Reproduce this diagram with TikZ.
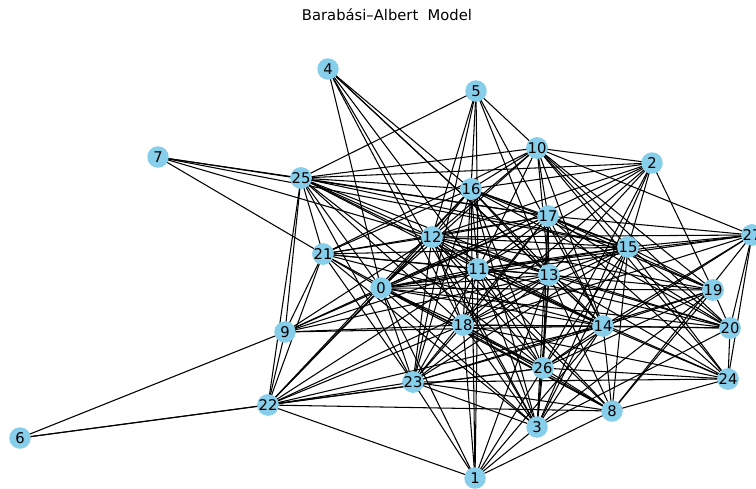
\documentclass[tikz,border=0pt]{standalone}
\usepackage{fontspec}
\setmainfont{DejaVu Sans}
\usepackage{tikz}
\pgfdeclarelayer{bg}
\pgfsetlayers{bg,main}
\definecolor{skyblue}{RGB}{135,206,235}
\tikzset{
	vertex/.style={circle, fill=skyblue, inner sep=0pt, minimum size=0.43cm, font=\fontsize{8.4}{10}\selectfont},
	link/.style={draw=black, line width=0.6pt}
}
\begin{document}
\begin{tikzpicture}[x=0.02cm, y=-0.02cm]
				\useasboundingbox (0,0) rectangle (756,488);
				\node[font=\fontsize{8.4}{10}\selectfont] (title) at (387,15) {Barabási–Albert\ \ Model};
				% vertices at pixel positions
				\foreach \n/\x/\y in {0/381/288, 1/475/478, 2/652/163, 3/537/427, 4/328/69, 5/476/91, 6/20/438,
					7/158/157, 8/612/411, 9/285/332, 10/537/148, 11/478/269, 12/432/237, 13/549/275,
					14/603/326, 15/628/247, 16/471/189, 17/548/216, 18/463/325, 19/713/290, 20/730/328,
					21/323/254, 22/268/405, 23/413/382, 24/728/379, 25/301/178, 26/543/368, 27/752/235} {
					\node[vertex] (v\n) at (\x,\y) {\n};
				}
				\begin{pgfonlayer}{bg}
				\foreach \a/\nbrs in {
					0/{1,2,3,4,8,9,10,11,12,13,14,15,16,17,18,19,20,21,22,23,25,26,27},
					1/{3,8,11,13,14,16,18,22,23,26},
					2/{3,10,11,12,13,15,16,18,19,25,26},
					3/{4,11,12,13,14,15,16,17,18,19,20,21,23,26},
					4/{11,13,14,16,18},
					5/{10,11,12,13,14,16,23,25},
					6/{9,22,26},
					7/{12,15,17,21,25},
					8/{11,12,13,14,15,18,19,21,22,23,24,26,27},
					9/{11,12,13,14,17,18,21,22,25},
					10/{11,12,13,14,15,16,17,19,20,21,24,25,27},
					11/{12,13,14,15,16,17,18,20,21,22,23,24,25,26,27},
					12/{13,14,15,16,17,18,19,20,21,22,23,25,26,27},
					13/{14,15,16,17,18,19,20,21,22,23,24,25,26},
					14/{15,16,17,18,19,20,21,22,23,24,25,26,27},
					15/{16,17,18,19,20,21,23,24,25,26,27},
					16/{17,18,19,20,21,22,23,25,26},
					17/{18,19,20,21,23,24,25,26,27},
					18/{20,22,23,24,25,26,27},
					19/{20,23,26},
					20/{24,27},
					21/{22,23,25},
					22/{23,25,26},
					23/{24,25},
					24/{26,27},
					25/{26},
					26/{27}} {
					\foreach \b in \nbrs {
						\draw[link] (v\a.center) -- (v\b.center);
					}
				}
				\end{pgfonlayer}
			\end{tikzpicture}
\end{document}
